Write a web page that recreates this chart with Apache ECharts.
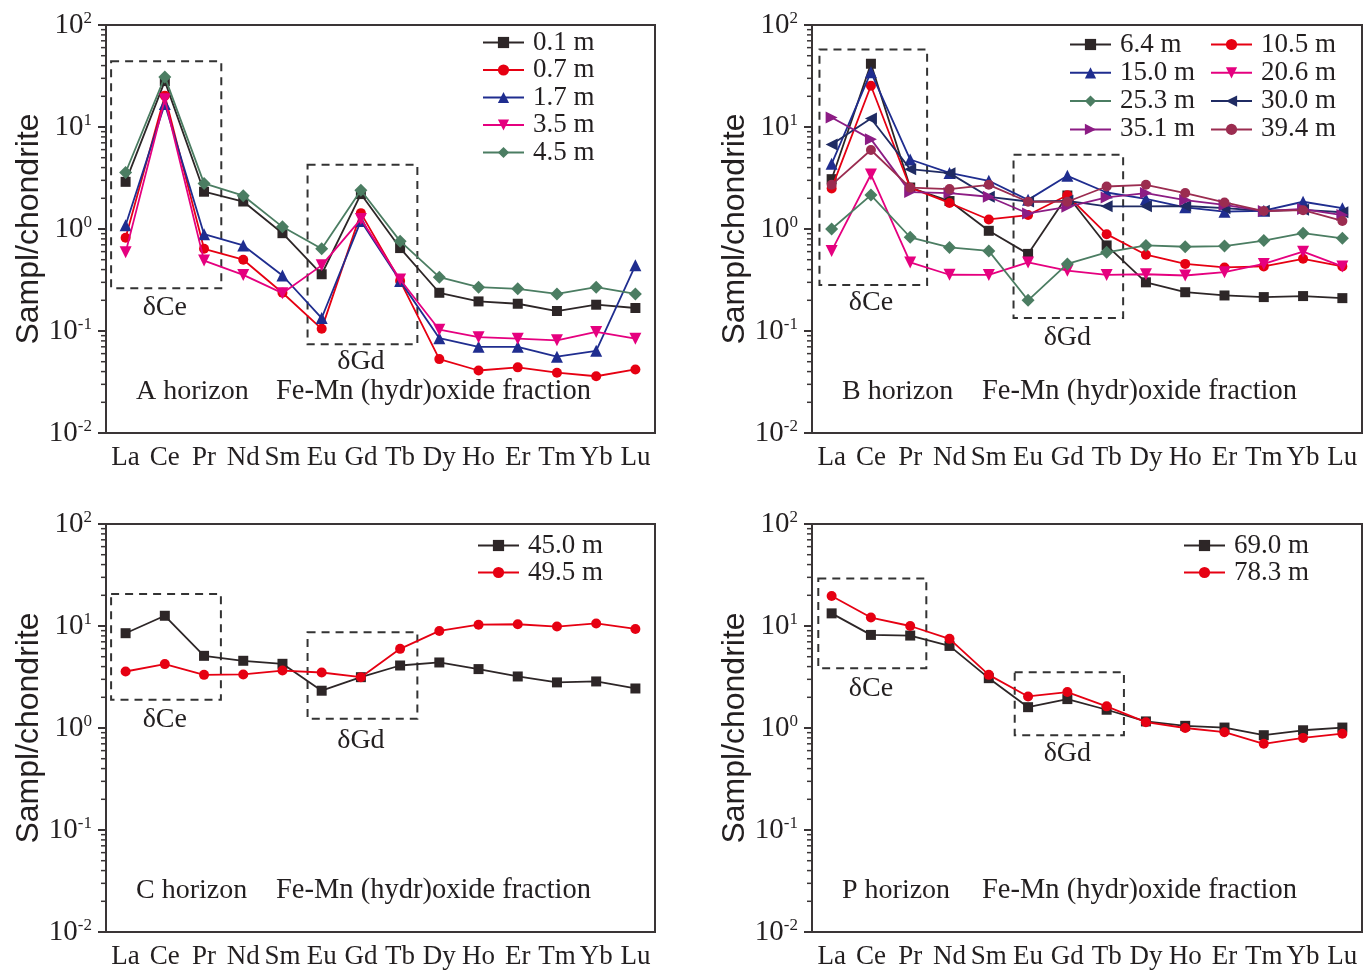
<!DOCTYPE html>
<html><head><meta charset="utf-8">
<script src="https://cdn.jsdelivr.net/npm/echarts@6/dist/echarts.min.js"></script>
<style>html,body{margin:0;padding:0;background:#fff}#c{width:1370px;height:970px}</style>
</head><body><div id="c"></div>
<script>
// ---------- data ----------
const ree = ['La','Ce','Pr','Nd','Sm','Eu','Gd','Tb','Dy','Ho','Er','Tm','Yb','Lu'];
const yTicks = [0.01, 0.1, 1, 10, 100];

// A horizon
const namesA = ['0.1 m','0.7 m','1.7 m','3.5 m','4.5 m'];
const a01 = [2.9, 28.2, 2.32, 1.86, 0.91, 0.36, 2.2, 0.65, 0.237, 0.195, 0.185, 0.157, 0.181, 0.168];
const a07 = [0.82, 20.3, 0.64, 0.50, 0.237, 0.105, 1.43, 0.31, 0.053, 0.041, 0.044, 0.039, 0.036, 0.042];
const a17 = [1.09, 16.8, 0.89, 0.69, 0.35, 0.134, 1.2, 0.31, 0.085, 0.070, 0.070, 0.056, 0.064, 0.44];
const a35 = [0.59, 18.7, 0.49, 0.355, 0.235, 0.44, 1.25, 0.32, 0.103, 0.087, 0.084, 0.081, 0.098, 0.084];
const a45 = [3.58, 31.0, 2.8, 2.12, 1.05, 0.64, 2.4, 0.76, 0.337, 0.269, 0.259, 0.231, 0.269, 0.231];

// B horizon
const namesB = ['6.4 m','10.5 m','15.0 m','20.6 m','25.3 m','30.0 m','35.1 m','39.4 m'];
const b64  = [3.08, 41.7, 2.55, 1.88, 0.96, 0.57, 2.13, 0.69, 0.30, 0.24, 0.223, 0.215, 0.22, 0.21];
const b105 = [2.5, 25.4, 2.54, 1.8, 1.24, 1.37, 2.14, 0.89, 0.56, 0.455, 0.42, 0.43, 0.51, 0.43];
const b150 = [4.35, 34.5, 4.8, 3.55, 2.97, 1.93, 3.32, 2.28, 1.97, 1.63, 1.48, 1.51, 1.85, 1.6];
const b206 = [0.61, 3.42, 0.47, 0.356, 0.355, 0.47, 0.39, 0.355, 0.36, 0.35, 0.377, 0.455, 0.60, 0.43];
const b253 = [1.0, 2.15, 0.83, 0.66, 0.61, 0.20, 0.455, 0.59, 0.69, 0.67, 0.68, 0.77, 0.91, 0.81];
const b300 = [6.75, 12.1, 3.86, 3.53, 2.07, 1.86, 1.89, 1.67, 1.67, 1.68, 1.6, 1.51, 1.54, 1.46];
const b351 = [12.4, 7.6, 2.3, 2.25, 2.07, 1.42, 1.65, 2.04, 2.25, 1.92, 1.72, 1.5, 1.57, 1.37];
const b394 = [2.71, 5.95, 2.54, 2.46, 2.71, 1.85, 1.85, 2.61, 2.71, 2.25, 1.82, 1.5, 1.53, 1.2];

// C horizon
const namesC = ['45.0 m','49.5 m'];
const c450 = [8.5, 12.6, 5.1, 4.56, 4.26, 2.32, 3.15, 4.1, 4.39, 3.78, 3.2, 2.8, 2.86, 2.44];
const c495 = [3.58, 4.23, 3.32, 3.35, 3.66, 3.5, 3.15, 5.97, 8.95, 10.3, 10.4, 9.87, 10.6, 9.36];

// P horizon
const namesD = ['69.0 m','78.3 m'];
const d690 = [13.3, 8.18, 8.06, 6.38, 3.08, 1.6, 1.92, 1.51, 1.16, 1.05, 1.01, 0.85, 0.95, 1.01];
const d783 = [19.7, 12.1, 10.0, 7.48, 3.32, 2.04, 2.25, 1.63, 1.14, 1.0, 0.91, 0.70, 0.80, 0.88];

// annotation boxes: [fromCategory, toCategory, upperValue, lowerValue]
const boxesA = [[-0.37, 2.44, 44, 0.263], [4.64, 7.44, 4.26, 0.074]];
const boxesB = [[-0.31, 2.43, 57.6, 0.283], [4.63, 7.42, 5.33, 0.134]];
const boxesC = [[-0.37, 2.43, 20.6, 1.89], [4.64, 7.44, 8.69, 1.23]];
const boxesD = [[-0.34, 2.41, 29.3, 3.86], [4.66, 7.44, 3.53, 0.85]];
// box labels: [text, category, value]
const marksA = [['δCe', 1, 0.171], ['δGd', 6, 0.05]];
const marksB = [['δCe', 1, 0.19], ['δGd', 6, 0.087]];
const marksC = [['δCe', 1, 1.22], ['δGd', 6, 0.76]];
const marksD = [['δCe', 1, 2.42], ['δGd', 6, 0.56]];

// ---------- styles ----------
const SERIF = "'Liberation Serif','Times New Roman',serif";
const SANS = "'Liberation Sans',Arial,sans-serif";
const TXT = '#231f20';
const AXIS = '#3a3536';
const BLACK = '#2d2627', RED = '#e60012', BLUE = '#1f2d8f', MAG = '#e5007f',
      GREEN = '#4b7d62', NAVY = '#1f2b63', PURP = '#8c1c84', MAROON = '#9b2c50';
const SQ = {symbol:'rect', symbolSize:10};
const CI = {symbol:'circle', symbolSize:10};
const UP = {symbol:'triangle', symbolSize:12};
const DN = {symbol:'triangle', symbolSize:12, symbolRotate:180};
const DI = {symbol:'diamond', symbolSize:13};
const LT = {symbol:'triangle', symbolSize:12, symbolRotate:90};
const RT = {symbol:'triangle', symbolSize:12, symbolRotate:-90};

const panels = [
  {names:namesA, vals:[a01,a07,a17,a35,a45], styles:[[BLACK,SQ],[RED,CI],[BLUE,UP],[MAG,DN],[GREEN,DI]],
   boxes:boxesA, marks:marksA, horizon:'A horizon'},
  {names:namesB, vals:[b64,b105,b150,b206,b253,b300,b351,b394],
   styles:[[BLACK,SQ],[RED,CI],[BLUE,UP],[MAG,DN],[GREEN,DI],[NAVY,LT],[PURP,RT],[MAROON,CI]],
   boxes:boxesB, marks:marksB, horizon:'B horizon'},
  {names:namesC, vals:[c450,c495], styles:[[BLACK,SQ],[RED,CI]], boxes:boxesC, marks:marksC, horizon:'C horizon'},
  {names:namesD, vals:[d690,d783], styles:[[BLACK,SQ],[RED,CI]], boxes:boxesD, marks:marksD, horizon:'P horizon'}
];

const grids = [
  {left:106, top:25, width:549, height:408},
  {left:812, top:25, width:550, height:408},
  {left:106, top:524, width:549, height:409},
  {left:812, top:524, width:550, height:409}
];

function annot(p) {
  return function (params, api) {
    const cs = params.coordSys;
    const ch = [];
    for (let e = -2; e < 2; e++) {
      for (let k = 2; k <= 9; k++) {
        const y = api.coord([0, k * Math.pow(10, e)])[1];
        ch.push({type:'line', shape:{x1:cs.x - 5, y1:y, x2:cs.x, y2:y}, style:{stroke:AXIS, lineWidth:1.5}});
      }
    }
    const c0 = api.coord([0, 1])[0], c1 = api.coord([1, 1])[0], band = c1 - c0;
    const xAt = f => c0 + f * band;
    p.boxes.forEach(b => {
      const yT = api.coord([0, b[2]])[1], yB = api.coord([0, b[3]])[1];
      ch.push({type:'rect', shape:{x:xAt(b[0]), y:yT, width:xAt(b[1]) - xAt(b[0]), height:yB - yT},
        style:{fill:'none', stroke:'#333', lineWidth:2, lineDash:[8, 6]}});
    });
    p.marks.forEach(m => {
      ch.push({type:'text', x:xAt(m[1]), y:api.coord([0, m[2]])[1],
        style:{text:m[0], fontFamily:SERIF, fontSize:28, fill:TXT, align:'center', verticalAlign:'middle',
               backgroundColor:'#fff'}});
    });
    ch.push({type:'text', x:cs.x + 30, y:cs.y + 367,
      style:{text:p.horizon, fontFamily:SERIF, fontSize:28, fill:TXT, align:'left', verticalAlign:'middle'}});
    ch.push({type:'text', x:cs.x + 170, y:cs.y + 367,
      style:{text:'Fe-Mn (hydr)oxide fraction', fontFamily:SERIF, fontSize:28.5, fill:TXT, align:'left', verticalAlign:'middle'}});
    return {type:'group', children:ch};
  };
}

const xAxis = [], yAxis = [], series = [];
grids.forEach((g, i) => {
  xAxis.push({type:'category', gridIndex:i, data:ree, boundaryGap:true,
    axisLine:{lineStyle:{color:AXIS, width:2}},
    axisTick:{inside:true, length:8, alignWithLabel:true, lineStyle:{color:AXIS, width:2}},
    axisLabel:{interval:0, fontFamily:SERIF, fontSize:27, color:TXT, margin:11},
    splitLine:{show:false}});
  yAxis.push({type:'log', logBase:10, gridIndex:i, min:yTicks[0], max:yTicks[yTicks.length - 1],
    axisLine:{show:true, lineStyle:{color:AXIS, width:2}},
    axisTick:{show:true, length:8, lineStyle:{color:AXIS, width:2}},
    splitLine:{show:false},
    axisLabel:{margin:14, formatter:v => '{b|10}{s|' + Math.round(Math.log10(v)) + '}',
      rich:{b:{fontFamily:SERIF, fontSize:29, color:TXT}, s:{fontFamily:SERIF, fontSize:17, color:TXT, verticalAlign:'top', padding:[0,0,12,0]}}},
    name:'Sampl/chondrite', nameLocation:'middle', nameGap:58,
    nameTextStyle:{fontFamily:SANS, fontSize:32, color:TXT}});
  const p = panels[i];
  series.push({type:'custom', xAxisIndex:i, yAxisIndex:i, data:[[0, 1]], renderItem:annot(p), silent:true, z:1, clip:false});
  p.names.forEach((n, j) => {
    const [col, sym] = p.styles[j];
    series.push(Object.assign({type:'line', name:n, xAxisIndex:i, yAxisIndex:i, data:p.vals[j], color:col,
      lineStyle:{color:col, width:1.8}, itemStyle:{color:col}, z:3 + j, showSymbol:true}, sym));
  });
});

const legText = {fontFamily:SERIF, fontSize:27, color:TXT, padding:[0,0,0,4]};
const legBase = {orient:'vertical', itemWidth:41, itemHeight:14, padding:0, selectedMode:false, textStyle:legText};
const legend = [
  Object.assign({data:namesA, left:482, top:29, itemGap:0.5}, legBase),
  Object.assign({data:[namesB[0], namesB[2], namesB[4], namesB[6]], left:1069, top:31, itemGap:1.3}, legBase),
  Object.assign({data:[namesB[1], namesB[3], namesB[5], namesB[7]], left:1210, top:31, itemGap:1.3}, legBase),
  Object.assign({data:namesC, left:477, top:532, itemGap:0}, legBase),
  Object.assign({data:namesD, left:1183, top:532, itemGap:0}, legBase)
];

const chart = echarts.init(document.getElementById('c'));
chart.setOption({
  animation:false,
  backgroundColor:'#fff',
  grid:grids.map(g => Object.assign({show:true, borderColor:AXIS, borderWidth:2}, g)),
  xAxis, yAxis, series, legend
});
</script></body></html>
